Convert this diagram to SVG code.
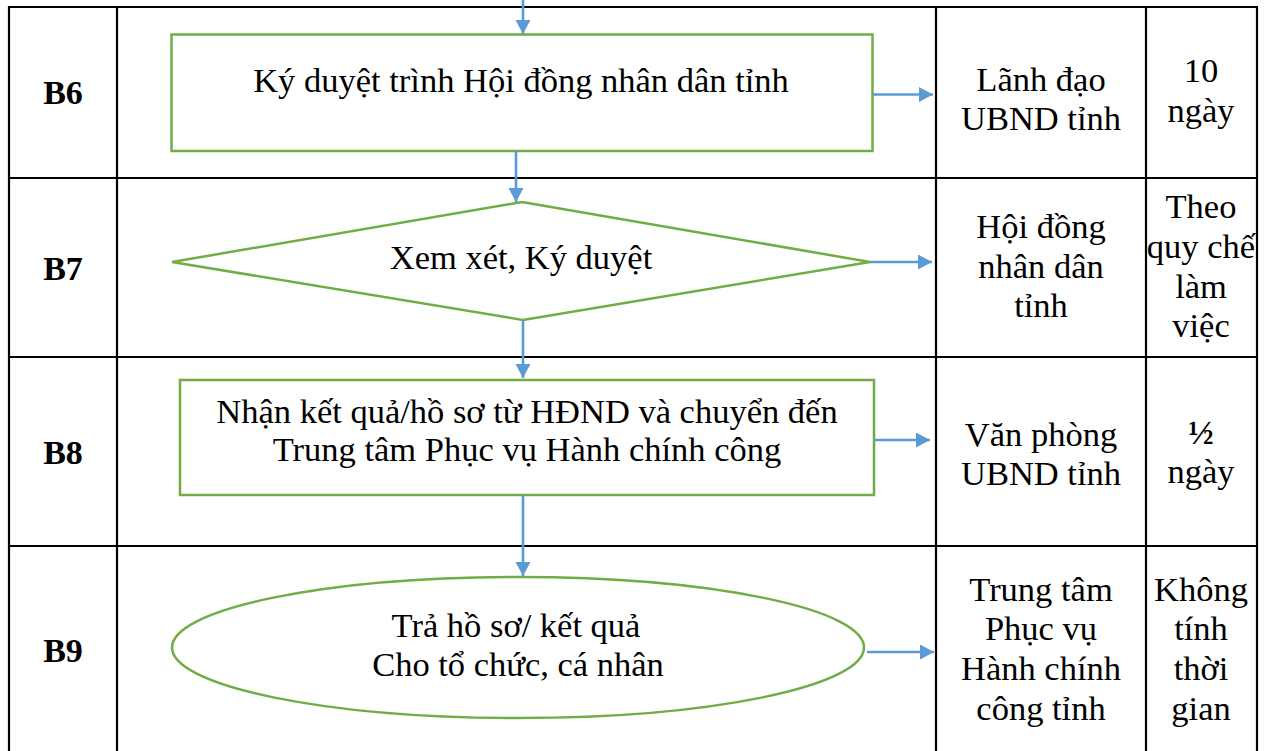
<svg xmlns="http://www.w3.org/2000/svg" width="1265" height="751" viewBox="0 0 1265 751">
<style>
.grid{stroke:#000;stroke-width:2.2;fill:none}
.shape{fill:#fff;stroke:#70AD47;stroke-width:2.5}
.conn{stroke:#5B9BD5;stroke-width:2.6;fill:none}
text{font-family:"Liberation Serif","Times New Roman",serif;font-size:34.5px;fill:#000;text-anchor:middle}
.b{font-weight:bold;font-size:34px}
</style>
<defs>
<marker id="ah" markerUnits="userSpaceOnUse" markerWidth="15" markerHeight="16" refX="14" refY="7.5" orient="auto">
<path d="M0,0 L14,7.5 L0,15 z" fill="#5B9BD5"/>
</marker>
</defs>
<rect x="0" y="0" width="1265" height="751" fill="#fff"/>
<g id="table">
<line class="grid" x1="9" y1="7" x2="1257" y2="7"/>
<line class="grid" x1="9" y1="178" x2="1257" y2="178"/>
<line class="grid" x1="9" y1="357" x2="1257" y2="357"/>
<line class="grid" x1="9" y1="546" x2="1257" y2="546"/>
<line class="grid" x1="9" y1="6" x2="9" y2="751"/>
<line class="grid" x1="117" y1="6" x2="117" y2="751"/>
<line class="grid" x1="936" y1="6" x2="936" y2="751"/>
<line class="grid" x1="1146" y1="6" x2="1146" y2="751"/>
<line class="grid" x1="1257" y1="6" x2="1257" y2="751"/>
</g>
<g id="B6">
<text class="b" x="63" y="104">B6</text>
<rect class="shape" x="171.5" y="34.5" width="701" height="116.5"/>
<text x="521" y="92">Ký duyệt trình Hội đồng nhân dân tỉnh</text>
<text x="1041" y="91">Lãnh đạo</text>
<text x="1041" y="130">UBND tỉnh</text>
<text x="1201" y="82">10</text>
<text x="1201" y="122">ngày</text>
</g>
<g id="B7">
<text class="b" x="63" y="280">B7</text>
<polygon class="shape" points="522,202 870,262 523,320 172,262"/>
<text x="521" y="269">Xem xét, Ký duyệt</text>
<text x="1041" y="238">Hội đồng</text>
<text x="1041" y="278">nhân dân</text>
<text x="1041" y="317">tỉnh</text>
<text x="1201" y="218">Theo</text>
<text x="1201" y="258">quy chế</text>
<text x="1201" y="298">làm</text>
<text x="1201" y="337">việc</text>
</g>
<g id="B8">
<text class="b" x="63" y="464">B8</text>
<rect class="shape" x="180" y="380" width="694" height="115"/>
<text x="527" y="423">Nhận kết quả/hồ sơ từ HĐND và chuyển đến</text>
<text x="527" y="461">Trung tâm Phục vụ Hành chính công</text>
<text x="1041" y="446">Văn phòng</text>
<text x="1041" y="485">UBND tỉnh</text>
<text class="b" x="1201" y="444">½</text>
<text x="1201" y="483">ngày</text>
</g>
<g id="B9">
<text class="b" x="63" y="662">B9</text>
<ellipse class="shape" cx="518" cy="647.5" rx="346" ry="70.5"/>
<text x="516" y="637">Trả hồ sơ/ kết quả</text>
<text x="518" y="676">Cho tổ chức, cá nhân</text>
<text x="1041" y="601">Trung tâm</text>
<text x="1041" y="640">Phục vụ</text>
<text x="1041" y="680">Hành chính</text>
<text x="1041" y="720">công tỉnh</text>
<text x="1201" y="601">Không</text>
<text x="1201" y="640">tính</text>
<text x="1201" y="680">thời</text>
<text x="1201" y="720">gian</text>
</g>
<g id="connectors">
<line class="conn" x1="523" y1="0" x2="523" y2="34" marker-end="url(#ah)"/>
<line class="conn" x1="516" y1="151" x2="516" y2="202" marker-end="url(#ah)"/>
<line class="conn" x1="523" y1="320" x2="523" y2="378" marker-end="url(#ah)"/>
<line class="conn" x1="523" y1="495" x2="523" y2="576" marker-end="url(#ah)"/>
<line class="conn" x1="873" y1="94.5" x2="933" y2="94.5" marker-end="url(#ah)"/>
<line class="conn" x1="870" y1="262" x2="932" y2="262" marker-end="url(#ah)"/>
<line class="conn" x1="875" y1="440" x2="930" y2="440" marker-end="url(#ah)"/>
<line class="conn" x1="867" y1="652" x2="934" y2="652" marker-end="url(#ah)"/>
</g>
</svg>
